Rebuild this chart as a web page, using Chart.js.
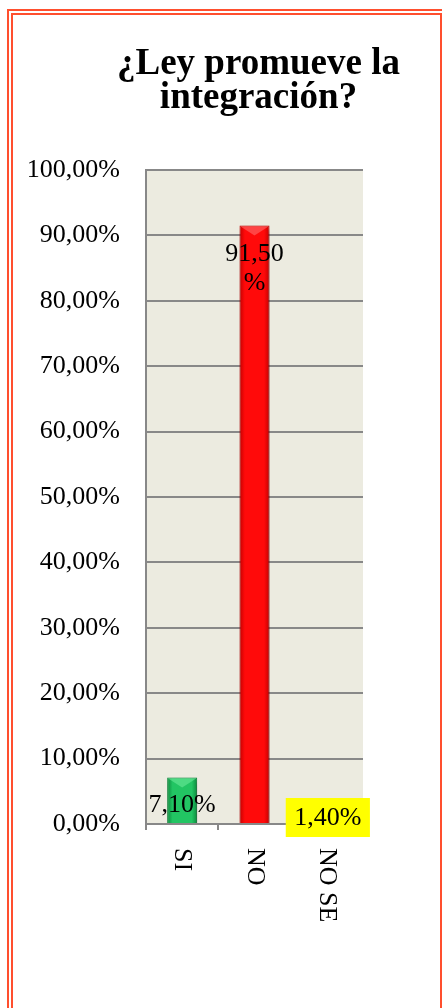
<!DOCTYPE html>
<html lang="es">
<head>
  <meta charset="UTF-8">
  <title>¿Ley promueve la integración?</title>
  <script src="https://cdn.jsdelivr.net/npm/chart.js"></script>
  <style>
    body { margin: 0; background: #fff; }
    #marco {
      position: absolute; left: 7px; top: 9px;
      width: 439px; height: 1100px;
      box-sizing: border-box;
      border: 6px double #ff4f2e;
      pointer-events: none;
    }
    #grafico { position: absolute; left: 0; top: 0; }
  </style>
</head>
<body>
<canvas id="grafico" width="442" height="1008"></canvas>
<div id="marco"></div>

<script>
  // Respuestas de la encuesta (porcentajes)
  const titulo = ["¿Ley promueve la", "integración?"];
  const categorias = ["SI", "NO", "NO SE"];
  const valores = [7.1, 91.5, 1.4];
  const ticksY = [0, 10, 20, 30, 40, 50, 60, 70, 80, 90, 100];

  // Colores de cada barra: [borde, centro, brillo]
  const coloresBarra = [
    ["#0b8a3c", "#22c563", "#6ae99a"],
    ["#c40000", "#ff0a0a", "#ff6a6a"],
    ["#d8d800", "#ffff00", "#ffff90"]
  ];
  const fondoEtiqueta = [null, null, "#ffff00"];

  const fuente = '"Liberation Serif", "Times New Roman", serif';

  function formato(v) {
    return v.toFixed(2).replace(".", ",") + "%";
  }

  // Degradado horizontal para dar volumen a las barras
  function degradado(ctx) {
    const chart = ctx.chart;
    const x = chart.scales.x;
    if (!chart.chartArea || !x) return coloresBarra[ctx.dataIndex][1];
    const cx = x.getPixelForValue(ctx.dataIndex);
    const w = x.width / categorias.length * 0.415;
    const c = coloresBarra[ctx.dataIndex];
    const g = chart.ctx.createLinearGradient(cx - w / 2, 0, cx + w / 2, 0);
    g.addColorStop(0, c[0]);
    g.addColorStop(0.18, c[1]);
    g.addColorStop(0.82, c[1]);
    g.addColorStop(1, c[0]);
    return g;
  }

  const fondoArea = {
    id: "fondoArea",
    beforeDraw(chart) {
      const { ctx, chartArea: a } = chart;
      ctx.save();
      ctx.fillStyle = "#ecebe0";
      ctx.fillRect(a.left, a.top, a.right - a.left, a.bottom - a.top);
      ctx.restore();
    }
  };

  // Título en dos líneas, algo desplazado a la derecha del área
  const tituloGrafico = {
    id: "tituloGrafico",
    afterDraw(chart) {
      const { ctx, chartArea: a } = chart;
      ctx.save();
      ctx.font = "bold 37px " + fuente;
      ctx.fillStyle = "#000";
      ctx.textAlign = "center";
      ctx.textBaseline = "alphabetic";
      const cx = (a.left + a.right) / 2 + 4;
      titulo.forEach((t, i) => ctx.fillText(t, cx, 74 + i * 34));
      ctx.restore();
    }
  };

  const barras3d = {
    id: "barras3d",
    beforeDatasetsDraw(chart) {
      const ctx = chart.ctx;
      ctx.save();
      ctx.shadowColor = "rgba(0,0,0,0.35)";
      ctx.shadowBlur = 6;
      ctx.shadowOffsetX = 2;
      ctx.shadowOffsetY = 3;
    },
    afterDatasetsDraw(chart) {
      const ctx = chart.ctx;
      ctx.restore();
      const meta = chart.getDatasetMeta(0);
      const anchoCat = chart.scales.x.width / categorias.length;

      meta.data.forEach((bar, i) => {
        // bisel superior
        const izq = bar.x - bar.width / 2, der = bar.x + bar.width / 2;
        const alto = Math.min(10, bar.base - bar.y);
        ctx.save();
        ctx.fillStyle = coloresBarra[i][2];
        ctx.globalAlpha = 0.6;
        ctx.beginPath();
        ctx.moveTo(izq + 1, bar.y + 1);
        ctx.lineTo(der - 1, bar.y + 1);
        ctx.lineTo(bar.x, bar.y + alto);
        ctx.closePath();
        ctx.fill();
        ctx.restore();
      });

      // etiquetas de valor
      ctx.save();
      ctx.font = "26px " + fuente;
      ctx.textAlign = "center";
      ctx.textBaseline = "middle";
      meta.data.forEach((bar, i) => {
        const texto = formato(valores[i]);
        let lineas = [texto];
        if (ctx.measureText(texto).width > anchoCat) {
          lineas = [texto.slice(0, -1), "%"];
        }
        let y = lineas.length > 1 ? bar.y + 29 : Math.min(bar.y + 28, bar.base - 5);
        if (fondoEtiqueta[i]) {
          const w = ctx.measureText(texto).width + 17;
          ctx.fillStyle = fondoEtiqueta[i];
          ctx.fillRect(bar.x + 1 - w / 2, y - 20, w, 39);
        }
        ctx.fillStyle = "#000";
        lineas.forEach((l, k) => ctx.fillText(l, bar.x + (fondoEtiqueta[i] ? 1 : 0), y + k * 29));
      });
      ctx.restore();
    }
  };

  // Etiquetas del eje X en vertical, de arriba hacia abajo
  const etiquetasX = {
    id: "etiquetasX",
    afterDraw(chart) {
      const { ctx, scales: { x } } = chart;
      ctx.save();
      ctx.font = "26px " + fuente;
      ctx.fillStyle = "#000";
      ctx.textAlign = "left";
      ctx.textBaseline = "middle";
      categorias.forEach((c, i) => {
        ctx.save();
        ctx.translate(x.getPixelForValue(i), x.top + 24);
        ctx.rotate(Math.PI / 2);
        ctx.fillText(c, 0, 0);
        ctx.restore();
      });
      ctx.restore();
    }
  };

  new Chart(document.getElementById("grafico"), {
    type: "bar",
    data: {
      labels: categorias,
      datasets: [{
        data: valores,
        backgroundColor: degradado,
        borderColor: ctx => coloresBarra[ctx.dataIndex][0],
        borderWidth: 1,
        categoryPercentage: 1,
        barPercentage: 0.415
      }]
    },
    options: {
      responsive: false,
      animation: false,
      devicePixelRatio: 1,
      layout: { padding: { left: 0, right: 79, top: 170, bottom: 0 } },
      plugins: {
        legend: { display: false },
        tooltip: { enabled: false },
        title: { display: false }
      },
      scales: {
        x: {
          ticks: { display: false },
          grid: {
            drawOnChartArea: false,
            color: "#888",
            lineWidth: 2,
            tickLength: 6
          },
          border: { color: "#888", width: 2 },
          afterFit: s => { s.height = 184; }
        },
        y: {
          min: 0,
          max: 100,
          afterBuildTicks: s => { s.ticks = ticksY.map(v => ({ value: v })); },
          ticks: {
            color: "#000",
            font: { family: fuente, size: 26 },
            padding: 26,
            callback: v => formato(v)
          },
          grid: { color: "#888", lineWidth: 2, drawTicks: false, tickLength: 0 },
          border: { color: "#888", width: 2 },
          afterFit: s => { s.width = 146; }
        }
      }
    },
    plugins: [fondoArea, tituloGrafico, barras3d, etiquetasX]
  });
</script>
</body>
</html>
